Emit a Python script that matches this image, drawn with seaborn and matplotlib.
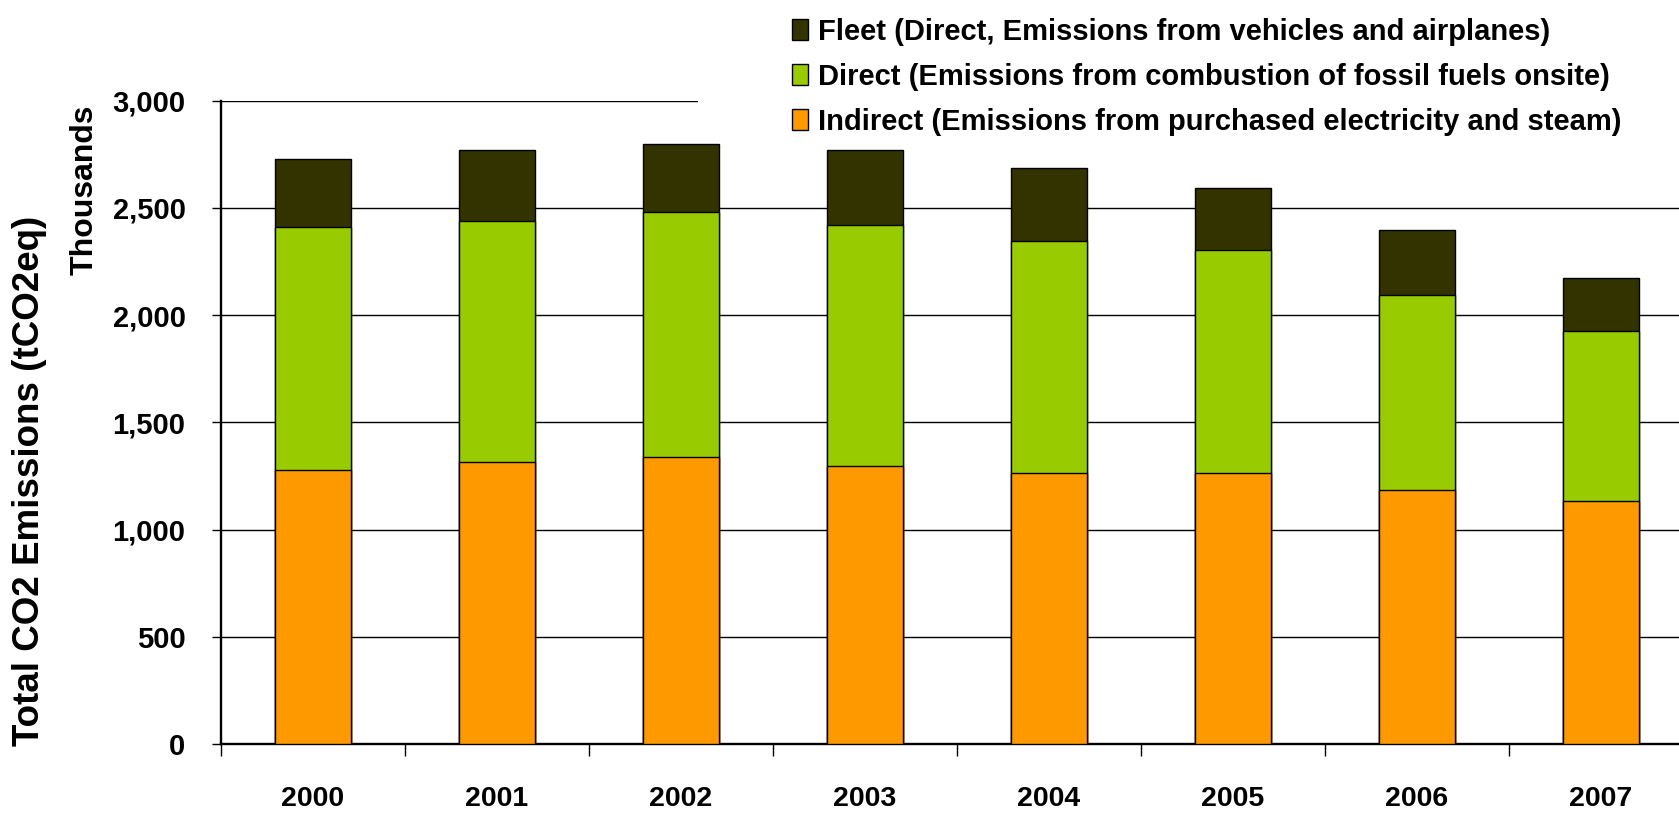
# Stacked CO2 emissions bars, 2000-2007

import numpy as np
import seaborn as sns
import matplotlib.pyplot as plt
from matplotlib.patches import Patch, Rectangle
from matplotlib.ticker import FuncFormatter

# data (thousands of tCO2eq)
years = ['2000', '2001', '2002', '2003', '2004', '2005', '2006', '2007']
indirect = [1276, 1314, 1336, 1294, 1264, 1264, 1182, 1133]
direct = [1133, 1123, 1143, 1125, 1083, 1041, 910, 793]
fleet = [317, 332, 318, 349, 338, 290, 307, 246]

labels = ['Fleet (Direct, Emissions from vehicles and airplanes)',
          'Direct (Emissions from combustion of fossil fuels onsite)',
          'Indirect (Emissions from purchased electricity and steam)']
colors = ['#333300', '#99CC00', '#FF9900']

sns.set_style('white')
plt.rcParams['font.family'] = ['Liberation Sans', 'DejaVu Sans']
plt.rcParams['font.weight'] = 'bold'
plt.rcParams['text.color'] = 'black'
plt.rcParams['axes.labelcolor'] = 'black'
plt.rcParams['xtick.color'] = 'black'
plt.rcParams['ytick.color'] = 'black'

W, H = 1679, 813
fig = plt.figure(figsize=(W / 100, H / 100), dpi=100)
ax = fig.add_axes([221 / W, 1 - 743.9 / H, (1693 - 221) / W, (743.9 - 100.7) / H])

low = np.array(indirect)
mid = low + np.array(direct)
top = mid + np.array(fleet)

# draw tallest first so the lower segments sit on top
for vals, c in zip([top, mid, low], colors):
    sns.barplot(x=years, y=vals, color=c, width=0.41, edgecolor='black',
                linewidth=1.0, saturation=1, ax=ax, zorder=3)

ax.set_ylim(0, 3000)
ax.set_xlim(-0.5, 7.5)
ax.set_yticks(np.arange(0, 3001, 500))
ax.yaxis.set_major_formatter(FuncFormatter(lambda v, p: f'{int(v):,}'))
ax.grid(axis='y', color='black', linewidth=1.0, zorder=0)
ax.set_axisbelow(True)

for s in ['top', 'right']:
    ax.spines[s].set_visible(False)
for s in ['left', 'bottom']:
    ax.spines[s].set_color('black')
    ax.spines[s].set_linewidth(1.7)

ax.set_xticks(np.arange(-0.5, 8.0, 1), minor=True)
ax.tick_params(axis='x', which='major', length=0, pad=30, labelsize=20.5,
               labelcolor='black')
ax.tick_params(axis='x', which='minor', length=8.5, width=1.0, color='black',
               direction='out', bottom=True)
ax.tick_params(axis='y', which='major', length=6.5, width=1.0, color='black',
               direction='out', left=True, pad=19, labelsize=21, labelcolor='black')
ax.set_xlabel('')
ax.set_ylabel('')

fig.text(30 / W, 1 - 481 / H, 'Total CO2 Emissions (tCO2eq)', rotation=90,
         ha='center', va='center', fontsize=26.5, fontweight='bold', color='black')
fig.text(85 / W, 1 - 190 / H, 'Thousands', rotation=90,
         ha='center', va='center', fontsize=23, fontweight='bold', color='black')

# white box behind the legend hides the right part of the 3,000 gridline
ax.add_patch(Rectangle((698 / W, 1 - 138 / H), 1, 138 / H, transform=fig.transFigure,
                       facecolor='white', edgecolor='none', zorder=2, clip_on=False))

handles = [Patch(facecolor=c, edgecolor='black', linewidth=1.0) for c in colors]
fig.legend(handles, labels, loc='upper left', bbox_to_anchor=(792 / W, 1 - 17.5 / H),
           frameon=False, borderpad=0, borderaxespad=0,
           handlelength=0.55, handleheight=0.75, handletextpad=0.34, labelspacing=0.59,
           labelcolor='black', prop={'weight': 'bold', 'size': 21})

fig.savefig('out.png', dpi=100)
